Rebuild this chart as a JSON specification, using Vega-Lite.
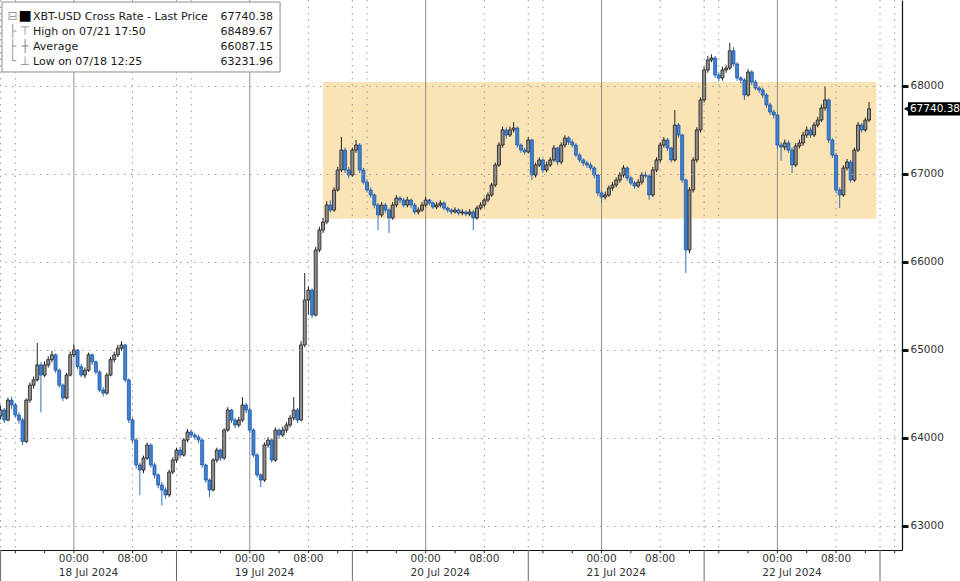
{
"$schema":"https://vega.github.io/schema/vega-lite/v6.json",
"width":902,"height":550,
"autosize":{"type":"none"},
"padding":{"left":0,"top":0,"right":58,"bottom":31},
"background":"white",
"config":{"view":{"stroke":null},"font":"DejaVu Sans"},
"data":{"values":[
{"t":"2024-07-17T14:00","o":64250,"h":64370,"l":64210,"c":64318},
{"t":"2024-07-17T14:30","o":64318,"h":64340,"l":64170,"c":64204},
{"t":"2024-07-17T15:00","o":64204,"h":64460,"l":64190,"c":64430},
{"t":"2024-07-17T15:30","o":64430,"h":64470,"l":64330,"c":64375},
{"t":"2024-07-17T16:00","o":64375,"h":64400,"l":64230,"c":64260},
{"t":"2024-07-17T16:30","o":64260,"h":64290,"l":64160,"c":64204},
{"t":"2024-07-17T17:00","o":64204,"h":64230,"l":63920,"c":63960},
{"t":"2024-07-17T17:30","o":63960,"h":64450,"l":63940,"c":64430},
{"t":"2024-07-17T18:00","o":64430,"h":64630,"l":64400,"c":64600},
{"t":"2024-07-17T18:30","o":64600,"h":64700,"l":64560,"c":64660},
{"t":"2024-07-17T19:00","o":64660,"h":65080,"l":64640,"c":64830},
{"t":"2024-07-17T19:30","o":64830,"h":64860,"l":64290,"c":64715},
{"t":"2024-07-17T20:00","o":64715,"h":64870,"l":64690,"c":64830},
{"t":"2024-07-17T20:30","o":64830,"h":64930,"l":64800,"c":64890},
{"t":"2024-07-17T21:00","o":64890,"h":64990,"l":64860,"c":64945},
{"t":"2024-07-17T21:30","o":64945,"h":64960,"l":64740,"c":64770},
{"t":"2024-07-17T22:00","o":64770,"h":64790,"l":64570,"c":64600},
{"t":"2024-07-17T22:30","o":64600,"h":64620,"l":64420,"c":64455},
{"t":"2024-07-17T23:00","o":64455,"h":64740,"l":64440,"c":64715},
{"t":"2024-07-17T23:30","o":64715,"h":64980,"l":64700,"c":64945},
{"t":"2024-07-18T00:00","o":64945,"h":65060,"l":64920,"c":65000},
{"t":"2024-07-18T00:30","o":65000,"h":65010,"l":64780,"c":64810},
{"t":"2024-07-18T01:00","o":64810,"h":64840,"l":64690,"c":64715},
{"t":"2024-07-18T01:30","o":64715,"h":64800,"l":64680,"c":64770},
{"t":"2024-07-18T02:00","o":64770,"h":64970,"l":64750,"c":64945},
{"t":"2024-07-18T02:30","o":64945,"h":64960,"l":64830,"c":64865},
{"t":"2024-07-18T03:00","o":64865,"h":64880,"l":64720,"c":64750},
{"t":"2024-07-18T03:30","o":64750,"h":64770,"l":64520,"c":64545},
{"t":"2024-07-18T04:00","o":64545,"h":64580,"l":64470,"c":64510},
{"t":"2024-07-18T04:30","o":64510,"h":64740,"l":64490,"c":64715},
{"t":"2024-07-18T05:00","o":64715,"h":64920,"l":64700,"c":64890},
{"t":"2024-07-18T05:30","o":64890,"h":64980,"l":64860,"c":64945},
{"t":"2024-07-18T06:00","o":64945,"h":65060,"l":64920,"c":65020},
{"t":"2024-07-18T06:30","o":65020,"h":65100,"l":64990,"c":65057},
{"t":"2024-07-18T07:00","o":65057,"h":65070,"l":64630,"c":64660},
{"t":"2024-07-18T07:30","o":64660,"h":64680,"l":64170,"c":64204},
{"t":"2024-07-18T08:00","o":64204,"h":64230,"l":63940,"c":63977},
{"t":"2024-07-18T08:30","o":63977,"h":64000,"l":63650,"c":63693},
{"t":"2024-07-18T09:00","o":63693,"h":63720,"l":63352,"c":63636},
{"t":"2024-07-18T09:30","o":63636,"h":63800,"l":63600,"c":63772},
{"t":"2024-07-18T10:00","o":63772,"h":63950,"l":63750,"c":63920},
{"t":"2024-07-18T10:30","o":63920,"h":63940,"l":63660,"c":63693},
{"t":"2024-07-18T11:00","o":63693,"h":63720,"l":63540,"c":63580},
{"t":"2024-07-18T11:30","o":63580,"h":63600,"l":63430,"c":63465},
{"t":"2024-07-18T12:00","o":63465,"h":63500,"l":63231.96,"c":63409},
{"t":"2024-07-18T12:30","o":63409,"h":63440,"l":63310,"c":63352},
{"t":"2024-07-18T13:00","o":63352,"h":63640,"l":63330,"c":63613},
{"t":"2024-07-18T13:30","o":63613,"h":63780,"l":63590,"c":63749},
{"t":"2024-07-18T14:00","o":63749,"h":63890,"l":63720,"c":63863},
{"t":"2024-07-18T14:30","o":63863,"h":63900,"l":63770,"c":63806},
{"t":"2024-07-18T15:00","o":63806,"h":64000,"l":63790,"c":63977},
{"t":"2024-07-18T15:30","o":63977,"h":64102,"l":63950,"c":64068},
{"t":"2024-07-18T16:00","o":64068,"h":64090,"l":64000,"c":64034},
{"t":"2024-07-18T16:30","o":64034,"h":64060,"l":63980,"c":64011},
{"t":"2024-07-18T17:00","o":64011,"h":64040,"l":63940,"c":63977},
{"t":"2024-07-18T17:30","o":63977,"h":63990,"l":63660,"c":63693},
{"t":"2024-07-18T18:00","o":63693,"h":63710,"l":63490,"c":63522},
{"t":"2024-07-18T18:30","o":63522,"h":63540,"l":63329,"c":63409},
{"t":"2024-07-18T19:00","o":63409,"h":63770,"l":63390,"c":63749},
{"t":"2024-07-18T19:30","o":63749,"h":63890,"l":63720,"c":63863},
{"t":"2024-07-18T20:00","o":63863,"h":63880,"l":63740,"c":63772},
{"t":"2024-07-18T20:30","o":63772,"h":64110,"l":63750,"c":64090},
{"t":"2024-07-18T21:00","o":64090,"h":64350,"l":64070,"c":64318},
{"t":"2024-07-18T21:30","o":64318,"h":64330,"l":64170,"c":64204},
{"t":"2024-07-18T22:00","o":64204,"h":64230,"l":64110,"c":64147},
{"t":"2024-07-18T22:30","o":64147,"h":64240,"l":64120,"c":64204},
{"t":"2024-07-18T23:00","o":64204,"h":64465,"l":64180,"c":64375},
{"t":"2024-07-18T23:30","o":64375,"h":64400,"l":64280,"c":64318},
{"t":"2024-07-19T00:00","o":64318,"h":64340,"l":64060,"c":64090},
{"t":"2024-07-19T00:30","o":64090,"h":64110,"l":63780,"c":63806},
{"t":"2024-07-19T01:00","o":63806,"h":63830,"l":63550,"c":63580},
{"t":"2024-07-19T01:30","o":63580,"h":63600,"l":63443,"c":63522},
{"t":"2024-07-19T02:00","o":63522,"h":63950,"l":63500,"c":63920},
{"t":"2024-07-19T02:30","o":63920,"h":64010,"l":63890,"c":63977},
{"t":"2024-07-19T03:00","o":63977,"h":63990,"l":63720,"c":63749},
{"t":"2024-07-19T03:30","o":63749,"h":64120,"l":63730,"c":64090},
{"t":"2024-07-19T04:00","o":64090,"h":64110,"l":64000,"c":64034},
{"t":"2024-07-19T04:30","o":64034,"h":64130,"l":64010,"c":64090},
{"t":"2024-07-19T05:00","o":64090,"h":64180,"l":64060,"c":64147},
{"t":"2024-07-19T05:30","o":64147,"h":64260,"l":64120,"c":64227},
{"t":"2024-07-19T06:00","o":64227,"h":64465,"l":64200,"c":64318},
{"t":"2024-07-19T06:30","o":64318,"h":64340,"l":64170,"c":64204},
{"t":"2024-07-19T07:00","o":64204,"h":65100,"l":64190,"c":65057},
{"t":"2024-07-19T07:30","o":65057,"h":65875,"l":65030,"c":65568},
{"t":"2024-07-19T08:00","o":65568,"h":65720,"l":65400,"c":65681},
{"t":"2024-07-19T08:30","o":65681,"h":65700,"l":65360,"c":65397},
{"t":"2024-07-19T09:00","o":65397,"h":66170,"l":65380,"c":66136},
{"t":"2024-07-19T09:30","o":66136,"h":66400,"l":66110,"c":66363},
{"t":"2024-07-19T10:00","o":66363,"h":66500,"l":66330,"c":66454},
{"t":"2024-07-19T10:30","o":66454,"h":66690,"l":66430,"c":66647},
{"t":"2024-07-19T11:00","o":66647,"h":66700,"l":66560,"c":66590},
{"t":"2024-07-19T11:30","o":66590,"h":66850,"l":66570,"c":66818},
{"t":"2024-07-19T12:00","o":66818,"h":67080,"l":66800,"c":67045},
{"t":"2024-07-19T12:30","o":67045,"h":67420,"l":67020,"c":67272},
{"t":"2024-07-19T13:00","o":67272,"h":67300,"l":67010,"c":67045},
{"t":"2024-07-19T13:30","o":67045,"h":67080,"l":66950,"c":66988},
{"t":"2024-07-19T14:00","o":66988,"h":67300,"l":66970,"c":67272},
{"t":"2024-07-19T14:30","o":67272,"h":67386,"l":67240,"c":67329},
{"t":"2024-07-19T15:00","o":67329,"h":67350,"l":67010,"c":67045},
{"t":"2024-07-19T15:30","o":67045,"h":67070,"l":66880,"c":66908},
{"t":"2024-07-19T16:00","o":66908,"h":66940,"l":66790,"c":66818},
{"t":"2024-07-19T16:30","o":66818,"h":66850,"l":66730,"c":66761},
{"t":"2024-07-19T17:00","o":66761,"h":66780,"l":66610,"c":66647},
{"t":"2024-07-19T17:30","o":66647,"h":66670,"l":66363,"c":66534},
{"t":"2024-07-19T18:00","o":66534,"h":66680,"l":66510,"c":66647},
{"t":"2024-07-19T18:30","o":66647,"h":66670,"l":66560,"c":66590},
{"t":"2024-07-19T19:00","o":66590,"h":66610,"l":66330,"c":66500},
{"t":"2024-07-19T19:30","o":66500,"h":66680,"l":66480,"c":66647},
{"t":"2024-07-19T20:00","o":66647,"h":66760,"l":66620,"c":66727},
{"t":"2024-07-19T20:30","o":66727,"h":66750,"l":66670,"c":66704},
{"t":"2024-07-19T21:00","o":66704,"h":66730,"l":66620,"c":66647},
{"t":"2024-07-19T21:30","o":66647,"h":66740,"l":66620,"c":66704},
{"t":"2024-07-19T22:00","o":66704,"h":66720,"l":66610,"c":66647},
{"t":"2024-07-19T22:30","o":66647,"h":66670,"l":66540,"c":66568},
{"t":"2024-07-19T23:00","o":66568,"h":66620,"l":66540,"c":66590},
{"t":"2024-07-19T23:30","o":66590,"h":66680,"l":66570,"c":66647},
{"t":"2024-07-20T00:00","o":66647,"h":66740,"l":66620,"c":66704},
{"t":"2024-07-20T00:30","o":66704,"h":66720,"l":66640,"c":66670},
{"t":"2024-07-20T01:00","o":66670,"h":66690,"l":66600,"c":66625},
{"t":"2024-07-20T01:30","o":66625,"h":66680,"l":66600,"c":66647},
{"t":"2024-07-20T02:00","o":66647,"h":66700,"l":66620,"c":66670},
{"t":"2024-07-20T02:30","o":66670,"h":66690,"l":66590,"c":66613},
{"t":"2024-07-20T03:00","o":66613,"h":66630,"l":66560,"c":66590},
{"t":"2024-07-20T03:30","o":66590,"h":66610,"l":66540,"c":66568},
{"t":"2024-07-20T04:00","o":66568,"h":66620,"l":66550,"c":66590},
{"t":"2024-07-20T04:30","o":66590,"h":66610,"l":66530,"c":66556},
{"t":"2024-07-20T05:00","o":66556,"h":66600,"l":66530,"c":66568},
{"t":"2024-07-20T05:30","o":66568,"h":66590,"l":66520,"c":66545},
{"t":"2024-07-20T06:00","o":66545,"h":66600,"l":66520,"c":66568},
{"t":"2024-07-20T06:30","o":66568,"h":66590,"l":66363,"c":66500},
{"t":"2024-07-20T07:00","o":66500,"h":66640,"l":66480,"c":66613},
{"t":"2024-07-20T07:30","o":66613,"h":66680,"l":66590,"c":66647},
{"t":"2024-07-20T08:00","o":66647,"h":66730,"l":66620,"c":66704},
{"t":"2024-07-20T08:30","o":66704,"h":66790,"l":66680,"c":66761},
{"t":"2024-07-20T09:00","o":66761,"h":66900,"l":66740,"c":66875},
{"t":"2024-07-20T09:30","o":66875,"h":67130,"l":66850,"c":67102},
{"t":"2024-07-20T10:00","o":67102,"h":67360,"l":67080,"c":67329},
{"t":"2024-07-20T10:30","o":67329,"h":67540,"l":67300,"c":67500},
{"t":"2024-07-20T11:00","o":67500,"h":67530,"l":67400,"c":67443},
{"t":"2024-07-20T11:30","o":67443,"h":67540,"l":67420,"c":67500},
{"t":"2024-07-20T12:00","o":67500,"h":67590,"l":67470,"c":67522},
{"t":"2024-07-20T12:30","o":67522,"h":67540,"l":67300,"c":67329},
{"t":"2024-07-20T13:00","o":67329,"h":67350,"l":67240,"c":67272},
{"t":"2024-07-20T13:30","o":67272,"h":67300,"l":67220,"c":67250},
{"t":"2024-07-20T14:00","o":67250,"h":67420,"l":67230,"c":67386},
{"t":"2024-07-20T14:30","o":67386,"h":67400,"l":66930,"c":66988},
{"t":"2024-07-20T15:00","o":66988,"h":67130,"l":66960,"c":67102},
{"t":"2024-07-20T15:30","o":67102,"h":67190,"l":67080,"c":67159},
{"t":"2024-07-20T16:00","o":67159,"h":67180,"l":67010,"c":67045},
{"t":"2024-07-20T16:30","o":67045,"h":67140,"l":67020,"c":67102},
{"t":"2024-07-20T17:00","o":67102,"h":67190,"l":67080,"c":67159},
{"t":"2024-07-20T17:30","o":67159,"h":67330,"l":67140,"c":67295},
{"t":"2024-07-20T18:00","o":67295,"h":67310,"l":67100,"c":67136},
{"t":"2024-07-20T18:30","o":67136,"h":67360,"l":67110,"c":67329},
{"t":"2024-07-20T19:00","o":67329,"h":67440,"l":67300,"c":67409},
{"t":"2024-07-20T19:30","o":67409,"h":67430,"l":67330,"c":67363},
{"t":"2024-07-20T20:00","o":67363,"h":67390,"l":67300,"c":67329},
{"t":"2024-07-20T20:30","o":67329,"h":67350,"l":67190,"c":67215},
{"t":"2024-07-20T21:00","o":67215,"h":67240,"l":67130,"c":67159},
{"t":"2024-07-20T21:30","o":67159,"h":67180,"l":67090,"c":67125},
{"t":"2024-07-20T22:00","o":67125,"h":67150,"l":67070,"c":67102},
{"t":"2024-07-20T22:30","o":67102,"h":67130,"l":67040,"c":67068},
{"t":"2024-07-20T23:00","o":67068,"h":67090,"l":66950,"c":66988},
{"t":"2024-07-20T23:30","o":66988,"h":67000,"l":66750,"c":66784},
{"t":"2024-07-21T00:00","o":66784,"h":66810,"l":66670,"c":66738},
{"t":"2024-07-21T00:30","o":66738,"h":66800,"l":66710,"c":66761},
{"t":"2024-07-21T01:00","o":66761,"h":66870,"l":66740,"c":66841},
{"t":"2024-07-21T01:30","o":66841,"h":66910,"l":66810,"c":66875},
{"t":"2024-07-21T02:00","o":66875,"h":66960,"l":66850,"c":66931},
{"t":"2024-07-21T02:30","o":66931,"h":67020,"l":66900,"c":66988},
{"t":"2024-07-21T03:00","o":66988,"h":67100,"l":66960,"c":67068},
{"t":"2024-07-21T03:30","o":67068,"h":67090,"l":66920,"c":66954},
{"t":"2024-07-21T04:00","o":66954,"h":66980,"l":66870,"c":66897},
{"t":"2024-07-21T04:30","o":66897,"h":66920,"l":66830,"c":66863},
{"t":"2024-07-21T05:00","o":66863,"h":66940,"l":66840,"c":66908},
{"t":"2024-07-21T05:30","o":66908,"h":67020,"l":66880,"c":66988},
{"t":"2024-07-21T06:00","o":66988,"h":67030,"l":66950,"c":66977},
{"t":"2024-07-21T06:30","o":66977,"h":66990,"l":66704,"c":66761},
{"t":"2024-07-21T07:00","o":66761,"h":67080,"l":66740,"c":67045},
{"t":"2024-07-21T07:30","o":67045,"h":67190,"l":67020,"c":67159},
{"t":"2024-07-21T08:00","o":67159,"h":67360,"l":67130,"c":67329},
{"t":"2024-07-21T08:30","o":67329,"h":67420,"l":67300,"c":67386},
{"t":"2024-07-21T09:00","o":67386,"h":67410,"l":67260,"c":67295},
{"t":"2024-07-21T09:30","o":67295,"h":67310,"l":67130,"c":67159},
{"t":"2024-07-21T10:00","o":67159,"h":67727,"l":67140,"c":67556},
{"t":"2024-07-21T10:30","o":67556,"h":67580,"l":67410,"c":67443},
{"t":"2024-07-21T11:00","o":67443,"h":67460,"l":66900,"c":66931},
{"t":"2024-07-21T11:30","o":66931,"h":66950,"l":65875,"c":66136},
{"t":"2024-07-21T12:00","o":66136,"h":66850,"l":66100,"c":66818},
{"t":"2024-07-21T12:30","o":66818,"h":67190,"l":66790,"c":67159},
{"t":"2024-07-21T13:00","o":67159,"h":67530,"l":67130,"c":67500},
{"t":"2024-07-21T13:30","o":67500,"h":67870,"l":67470,"c":67841},
{"t":"2024-07-21T14:00","o":67841,"h":68220,"l":67810,"c":68182},
{"t":"2024-07-21T14:30","o":68182,"h":68340,"l":68150,"c":68295},
{"t":"2024-07-21T15:00","o":68295,"h":68360,"l":68270,"c":68318},
{"t":"2024-07-21T15:30","o":68318,"h":68340,"l":68090,"c":68125},
{"t":"2024-07-21T16:00","o":68125,"h":68150,"l":68050,"c":68091},
{"t":"2024-07-21T16:30","o":68091,"h":68220,"l":68060,"c":68182},
{"t":"2024-07-21T17:00","o":68182,"h":68240,"l":68150,"c":68204},
{"t":"2024-07-21T17:30","o":68204,"h":68489.67,"l":68180,"c":68400},
{"t":"2024-07-21T18:00","o":68400,"h":68440,"l":68220,"c":68250},
{"t":"2024-07-21T18:30","o":68250,"h":68270,"l":68060,"c":68091},
{"t":"2024-07-21T19:00","o":68091,"h":68110,"l":68030,"c":68068},
{"t":"2024-07-21T19:30","o":68068,"h":68090,"l":67841,"c":67897},
{"t":"2024-07-21T20:00","o":67897,"h":68190,"l":67880,"c":68159},
{"t":"2024-07-21T20:30","o":68159,"h":68180,"l":68010,"c":68045},
{"t":"2024-07-21T21:00","o":68045,"h":68070,"l":67950,"c":67977},
{"t":"2024-07-21T21:30","o":67977,"h":68000,"l":67920,"c":67954},
{"t":"2024-07-21T22:00","o":67954,"h":67980,"l":67860,"c":67897},
{"t":"2024-07-21T22:30","o":67897,"h":67920,"l":67750,"c":67784},
{"t":"2024-07-21T23:00","o":67784,"h":67810,"l":67670,"c":67704},
{"t":"2024-07-21T23:30","o":67704,"h":67730,"l":67630,"c":67670},
{"t":"2024-07-22T00:00","o":67670,"h":67690,"l":67290,"c":67329},
{"t":"2024-07-22T00:30","o":67329,"h":67360,"l":67150,"c":67306},
{"t":"2024-07-22T01:00","o":67306,"h":67390,"l":67270,"c":67352},
{"t":"2024-07-22T01:30","o":67352,"h":67380,"l":67240,"c":67272},
{"t":"2024-07-22T02:00","o":67272,"h":67300,"l":67010,"c":67102},
{"t":"2024-07-22T02:30","o":67102,"h":67350,"l":67080,"c":67318},
{"t":"2024-07-22T03:00","o":67318,"h":67390,"l":67290,"c":67352},
{"t":"2024-07-22T03:30","o":67352,"h":67480,"l":67320,"c":67443},
{"t":"2024-07-22T04:00","o":67443,"h":67540,"l":67410,"c":67500},
{"t":"2024-07-22T04:30","o":67500,"h":67530,"l":67410,"c":67443},
{"t":"2024-07-22T05:00","o":67443,"h":67590,"l":67420,"c":67556},
{"t":"2024-07-22T05:30","o":67556,"h":67650,"l":67530,"c":67613},
{"t":"2024-07-22T06:00","o":67613,"h":67790,"l":67590,"c":67750},
{"t":"2024-07-22T06:30","o":67750,"h":67988,"l":67720,"c":67841},
{"t":"2024-07-22T07:00","o":67841,"h":67860,"l":67350,"c":67386},
{"t":"2024-07-22T07:30","o":67386,"h":67410,"l":67180,"c":67215},
{"t":"2024-07-22T08:00","o":67215,"h":67240,"l":66780,"c":66818},
{"t":"2024-07-22T08:30","o":66818,"h":66850,"l":66613,"c":66761},
{"t":"2024-07-22T09:00","o":66761,"h":67100,"l":66740,"c":67068},
{"t":"2024-07-22T09:30","o":67068,"h":67170,"l":67040,"c":67136},
{"t":"2024-07-22T10:00","o":67136,"h":67160,"l":66900,"c":66931},
{"t":"2024-07-22T10:30","o":66931,"h":67300,"l":66910,"c":67272},
{"t":"2024-07-22T11:00","o":67272,"h":67590,"l":67250,"c":67556},
{"t":"2024-07-22T11:30","o":67556,"h":67580,"l":67470,"c":67500},
{"t":"2024-07-22T12:00","o":67500,"h":67640,"l":67480,"c":67613},
{"t":"2024-07-22T12:30","o":67613,"h":67818,"l":67590,"c":67740.38}
]},
"layer":[
{"data":{"values":[{}]},
 "mark":{"type":"rect","fill":"#fae3b4"},
 "encoding":{
  "x":{"datum":{"year":2024,"month":7,"date":19,"hours":10},"type":"temporal"},
  "x2":{"datum":{"year":2024,"month":7,"date":22,"hours":13,"minutes":30}},
  "y":{"datum":66490,"type":"quantitative"},
  "y2":{"datum":68045}
 }},
{"data":{"values":[{"g":"2024-07-18T00:00"},{"g":"2024-07-19T00:00"},{"g":"2024-07-20T00:00"},{"g":"2024-07-21T00:00"},{"g":"2024-07-22T00:00"}]},
 "mark":{"type":"rule","color":"#8f8f8f","strokeWidth":1},
 "encoding":{"x":{"field":"g","type":"temporal","title":null}}},
{"data":{"values":[{"g":"2024-07-17T14:00"},{"g":"2024-07-17T16:00"},{"g":"2024-07-18T08:00"},{"g":"2024-07-18T14:00"},{"g":"2024-07-18T16:00"},{"g":"2024-07-19T08:00"},{"g":"2024-07-19T14:00"},{"g":"2024-07-19T16:00"},{"g":"2024-07-20T08:00"},{"g":"2024-07-20T14:00"},{"g":"2024-07-20T16:00"},{"g":"2024-07-21T08:00"},{"g":"2024-07-21T14:00"},{"g":"2024-07-21T16:00"},{"g":"2024-07-22T08:00"},{"g":"2024-07-22T14:00"},{"g":"2024-07-22T16:00"}]},
 "mark":{"type":"rule","color":"#9a9a9a","strokeWidth":1,"strokeDash":[1.5,5]},
 "encoding":{"x":{"field":"g","type":"temporal","title":null}}},
{"mark":{"type":"rule","clip":true,"strokeWidth":1},
 "encoding":{
  "x":{"field":"t","type":"temporal","title":null,
   "scale":{"domain":[{"year":2024,"month":7,"date":17,"hours":13,"minutes":55},{"year":2024,"month":7,"date":22,"hours":17}],"nice":false,"padding":0},
   "axis":{"orient":"bottom","labels":false,"ticks":false,"grid":false,"domainColor":"#111","domainWidth":1.2}},
  "y":{"field":"l","type":"quantitative","title":null,
   "scale":{"domain":[62727,68977],"nice":false,"zero":false},
   "axis":{"orient":"right","values":[63000,64000,65000,66000,67000,68000],"format":"d","zindex":1,
    "domainColor":"#111","domainWidth":1.2,"grid":true,"gridColor":"#9a9a9a","gridDash":[1.5,5.5],
    "tickColor":"#111","tickSize":6,"tickWidth":3,
    "labelFont":"DejaVu Sans","labelFontSize":10.5,"labelColor":"#333","labelPadding":2}},
  "y2":{"field":"h"},
  "color":{"condition":{"test":"datum.c >= datum.o","value":"#222"},"value":"#2f6fc0"}
 }},
{"mark":{"type":"bar","size":3,"strokeWidth":0.8,"clip":true},
 "encoding":{
  "x":{"field":"t","type":"temporal","title":null},
  "y":{"field":"o","type":"quantitative","title":null},
  "y2":{"field":"c"},
  "fill":{"condition":{"test":"datum.c >= datum.o","value":"#8f8f8f"},"value":"#3b82d6"},
  "stroke":{"condition":{"test":"datum.c >= datum.o","value":"#1a1a1a"},"value":"#24589e"}
 }},
{"data":{"values":[{"s":"2024-07-17T14:00"},{"s":"2024-07-18T14:00"},{"s":"2024-07-19T14:00"},{"s":"2024-07-20T14:00"},{"s":"2024-07-21T14:00"},{"s":"2024-07-22T14:00"}]},
 "mark":{"type":"rule","clip":false,"color":"#666","strokeWidth":1},
 "encoding":{
  "x":{"field":"s","type":"temporal","title":null},
  "y":{"datum":62727,"type":"quantitative"},
  "y2":{"datum":62375}
 }},
{"data":{"values":[{"k":"2024-07-17T16:00"},{"k":"2024-07-17T20:00"},{"k":"2024-07-18T00:00"},{"k":"2024-07-18T04:00"},{"k":"2024-07-18T08:00"},{"k":"2024-07-18T12:00"},{"k":"2024-07-18T16:00"},{"k":"2024-07-18T20:00"},{"k":"2024-07-19T00:00"},{"k":"2024-07-19T04:00"},{"k":"2024-07-19T08:00"},{"k":"2024-07-19T12:00"},{"k":"2024-07-19T16:00"},{"k":"2024-07-19T20:00"},{"k":"2024-07-20T00:00"},{"k":"2024-07-20T04:00"},{"k":"2024-07-20T08:00"},{"k":"2024-07-20T12:00"},{"k":"2024-07-20T16:00"},{"k":"2024-07-20T20:00"},{"k":"2024-07-21T00:00"},{"k":"2024-07-21T04:00"},{"k":"2024-07-21T08:00"},{"k":"2024-07-21T12:00"},{"k":"2024-07-21T16:00"},{"k":"2024-07-21T20:00"},{"k":"2024-07-22T00:00"},{"k":"2024-07-22T04:00"},{"k":"2024-07-22T08:00"},{"k":"2024-07-22T12:00"},{"k":"2024-07-22T16:00"}]},
 "mark":{"type":"rule","clip":false,"color":"#222","strokeWidth":1},
 "encoding":{
  "x":{"field":"k","type":"temporal","title":null},
  "y":{"datum":62727,"type":"quantitative"},
  "y2":{"datum":62690}
 }},
{"data":{"values":[{"k":"2024-07-18T00:00"},{"k":"2024-07-18T08:00"},{"k":"2024-07-19T00:00"},{"k":"2024-07-19T08:00"},{"k":"2024-07-20T00:00"},{"k":"2024-07-20T08:00"},{"k":"2024-07-21T00:00"},{"k":"2024-07-21T08:00"},{"k":"2024-07-22T00:00"},{"k":"2024-07-22T08:00"}]},
 "mark":{"type":"text","clip":false,"align":"center","baseline":"middle","font":"DejaVu Sans","fontSize":10.5,"color":"#333"},
 "encoding":{
  "x":{"field":"k","type":"temporal","title":null},
  "y":{"datum":62625,"type":"quantitative"},
  "text":{"field":"k","type":"temporal","format":"%H:%M"}
 }},
{"data":{"values":[{"d":"2024-07-18T02:00"},{"d":"2024-07-19T02:00"},{"d":"2024-07-20T02:00"},{"d":"2024-07-21T02:00"},{"d":"2024-07-22T02:00"}]},
 "mark":{"type":"text","clip":false,"align":"center","baseline":"middle","font":"DejaVu Sans","fontSize":10.5,"color":"#333"},
 "encoding":{
  "x":{"field":"d","type":"temporal","title":null},
  "y":{"datum":62466,"type":"quantitative"},
  "text":{"field":"d","type":"temporal","format":"%d %b %Y"}
 }},
{"data":{"values":[{}]},
 "mark":{"type":"rect","fill":"#ffffff","stroke":"#8c8c8c","strokeWidth":1,"clip":false},
 "encoding":{
  "x":{"datum":{"year":2024,"month":7,"date":17,"hours":14,"minutes":11},"type":"temporal"},
  "x2":{"datum":{"year":2024,"month":7,"date":19,"hours":4,"minutes":8}},
  "y":{"datum":68954,"type":"quantitative"},
  "y2":{"datum":68159}
 }},
{"data":{"values":[{}]},
 "mark":{"type":"text","clip":false,"align":"center","baseline":"alphabetic","lineHeight":15.2,"font":"DejaVu Sans","fontSize":12,"color":"#9a9a9a",
  "text":["⊟","├","├","└"]},
 "encoding":{
  "x":{"datum":{"year":2024,"month":7,"date":17,"hours":15,"minutes":38},"type":"temporal"},
  "y":{"datum":68755,"type":"quantitative"}
 }},
{"data":{"values":[{}]},
 "mark":{"type":"text","clip":false,"align":"center","baseline":"alphabetic","lineHeight":15.2,"font":"DejaVu Sans","fontSize":12,"color":"#8a8a8a",
  "text":["","⊤","┼","⊥"]},
 "encoding":{
  "x":{"datum":{"year":2024,"month":7,"date":17,"hours":17,"minutes":20},"type":"temporal"},
  "y":{"datum":68755,"type":"quantitative"}
 }},
{"data":{"values":[{}]},
 "mark":{"type":"text","clip":false,"align":"center","baseline":"alphabetic","font":"DejaVu Sans","fontSize":14,"color":"#000000","text":"■"},
 "encoding":{
  "x":{"datum":{"year":2024,"month":7,"date":17,"hours":17,"minutes":20},"type":"temporal"},
  "y":{"datum":68750,"type":"quantitative"}
 }},
{"data":{"values":[{}]},
 "mark":{"type":"text","clip":false,"align":"left","baseline":"alphabetic","lineHeight":15.2,"font":"DejaVu Sans","fontSize":11,"color":"#1a1a1a",
  "text":["XBT-USD Cross Rate - Last Price","High on 07/21 17:50","Average","Low on 07/18 12:25"]},
 "encoding":{
  "x":{"datum":{"year":2024,"month":7,"date":17,"hours":18,"minutes":25},"type":"temporal"},
  "y":{"datum":68755,"type":"quantitative"}
 }},
{"data":{"values":[{}]},
 "mark":{"type":"text","clip":false,"align":"right","baseline":"alphabetic","lineHeight":15.2,"font":"DejaVu Sans","fontSize":11,"color":"#1a1a1a",
  "text":["67740.38","68489.67","66087.15","63231.96"]},
 "encoding":{
  "x":{"datum":{"year":2024,"month":7,"date":19,"hours":3,"minutes":10},"type":"temporal"},
  "y":{"datum":68755,"type":"quantitative"}
 }},
{"data":{"values":[{"price":67740.38}]},
 "mark":{"type":"rect","clip":false,"fill":"#000000"},
 "encoding":{
  "x":{"datum":{"year":2024,"month":7,"date":22,"hours":17,"minutes":49},"type":"temporal"},
  "x2":{"datum":{"year":2024,"month":7,"date":23,"hours":1}},
  "y":{"datum":67665,"type":"quantitative"},
  "y2":{"datum":67815}
 }},
{"data":{"values":[{"price":67740.38}]},
 "mark":{"type":"point","clip":false,"shape":"triangle-left","filled":true,"fill":"#000000","opacity":1,"size":60},
 "encoding":{
  "x":{"datum":{"year":2024,"month":7,"date":22,"hours":17,"minutes":43},"type":"temporal"},
  "y":{"field":"price","type":"quantitative","title":null}
 }},
{"data":{"values":[{"price":67740.38}]},
 "mark":{"type":"text","clip":false,"align":"left","baseline":"middle","font":"DejaVu Sans","fontSize":10.5,"color":"#ffffff"},
 "encoding":{
  "x":{"datum":{"year":2024,"month":7,"date":22,"hours":18,"minutes":5},"type":"temporal"},
  "y":{"field":"price","type":"quantitative","title":null},
  "text":{"field":"price","type":"quantitative","format":".2f"}
 }}
]
}
